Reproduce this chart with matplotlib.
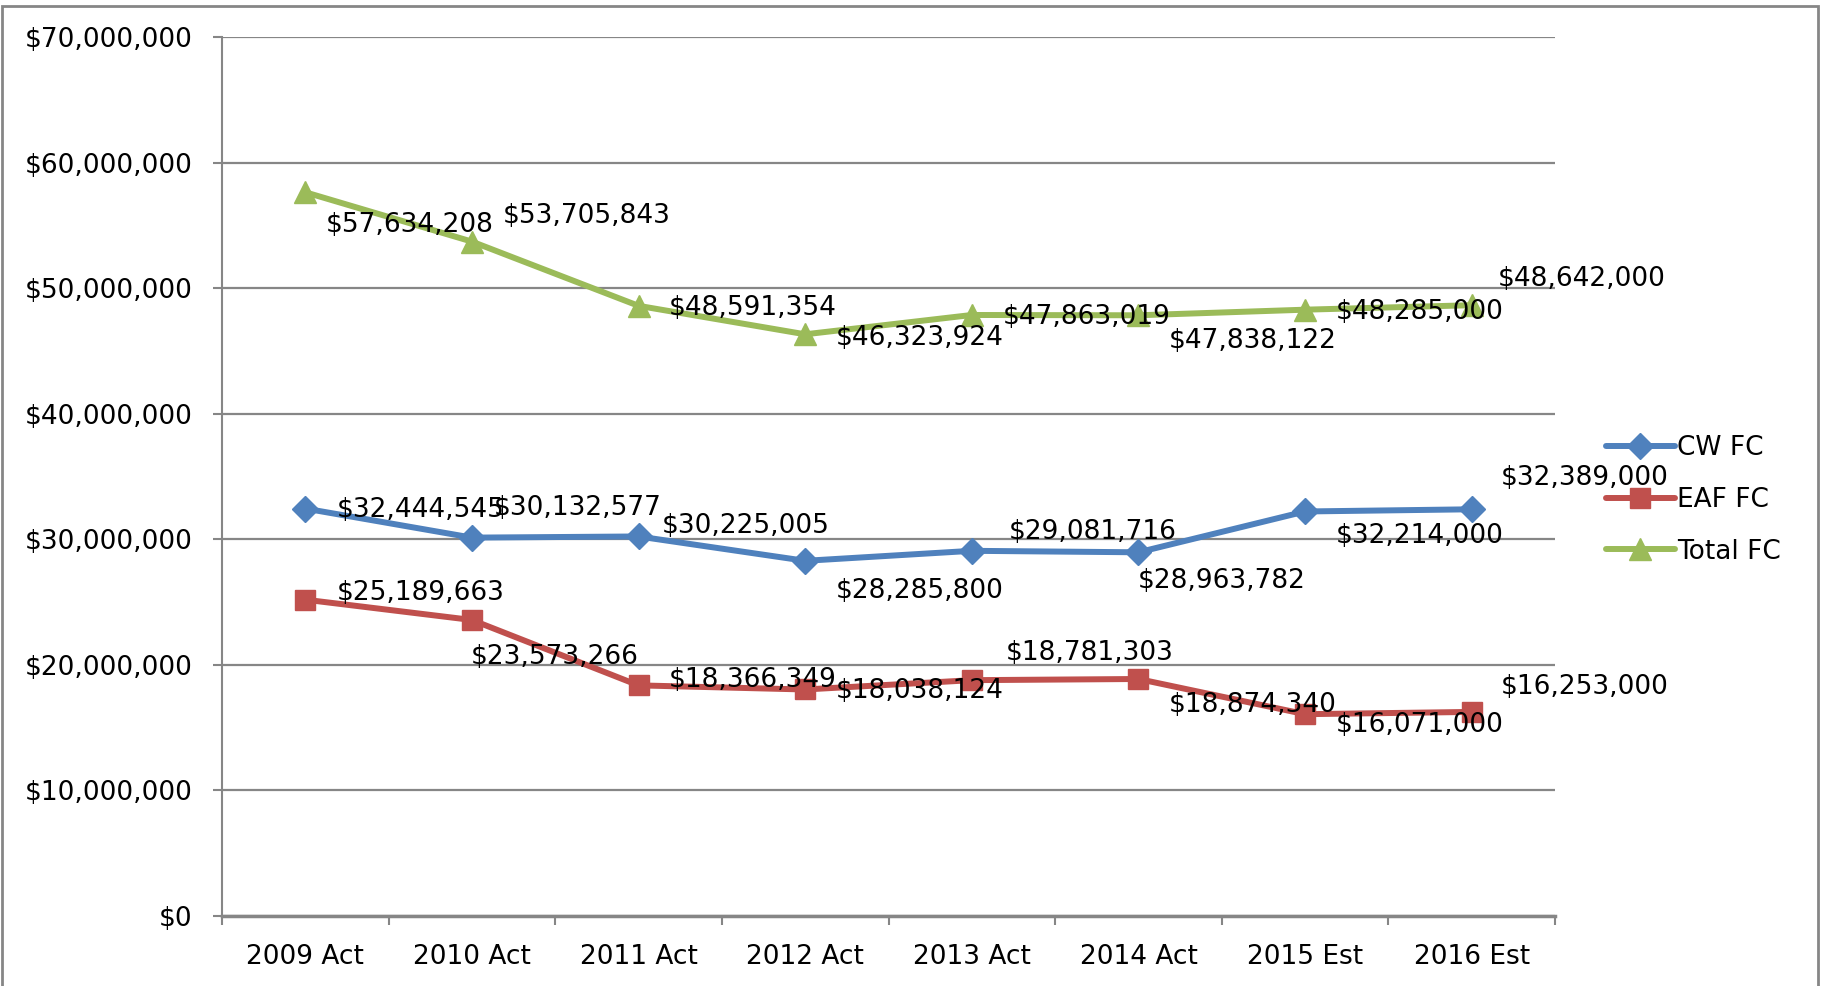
import numpy as np
import matplotlib
matplotlib.use("Agg")
import matplotlib.pyplot as plt
from matplotlib.patches import Rectangle
from matplotlib.ticker import FuncFormatter

# data
years = ["2009 Act", "2010 Act", "2011 Act", "2012 Act",
         "2013 Act", "2014 Act", "2015 Est", "2016 Est"]
cw_fc = [32444545, 30132577, 30225005, 28285800, 29081716, 28963782, 32214000, 32389000]
eaf_fc = [25189663, 23573266, 18366349, 18038124, 18781303, 18874340, 16071000, 16253000]
total_fc = [57634208, 53705843, 48591354, 46323924, 47863019, 47838122, 48285000, 48642000]

# label offsets in points (dx, dy), placed as in the original
cw_off = [(22.6, -0.8), (16, 21), (16.8, 7.5), (21.8, -21.8),
          (26.8, 13.4), (-0.8, -21), (21.8, -17.6), (21, 22.6)]
eaf_off = [(22.6, 5), (-0.8, -26.8), (21.8, 4.2), (21.8, -0.8),
           (24.3, 19.3), (21.8, -18.4), (21.8, -7.5), (21, 17.6)]
total_off = [(15, -23.5), (22, 18.4), (22, -1.7), (22, -2.5),
             (22, -1.7), (22, -18.4), (22, -1.7), (19, 19)]

blue = "#4F81BD"
red = "#C0504D"
green = "#9BBB59"
gray = "#868686"
fs = 19

plt.rcParams["font.family"] = ["DejaVu Sans"]

fig = plt.figure(figsize=(18.25, 9.86), dpi=100)
ax = fig.add_axes([222 / 1825, 70 / 986, (1555 - 222) / 1825, (916 - 37) / 986])

x = np.arange(len(years))
series = [
    ("CW FC", cw_fc, blue, "D", 13, cw_off),
    ("EAF FC", eaf_fc, red, "s", 14, eaf_off),
    ("Total FC", total_fc, green, "^", 16, total_off),
]
handles = []
for name, vals, col, mk, ms, offs in series:
    h, = ax.plot(x, vals, color=col, lw=4.3, marker=mk, markersize=ms,
                 solid_capstyle="round", label=name, zorder=3)
    handles.append(h)
    for xi, v, (dx, dy) in zip(x, vals, offs):
        ax.annotate("${:,.0f}".format(v), (xi, v), xytext=(dx, dy),
                    textcoords="offset points", ha="left", va="center",
                    fontsize=fs, color="black", zorder=5)

ax.set_xlim(-0.5, len(years) - 0.5)
ax.set_ylim(0, 70000000)
ax.set_yticks(np.arange(0, 70000001, 10000000))
ax.yaxis.set_major_formatter(FuncFormatter(lambda v, p: "${:,.0f}".format(v)))
ax.grid(axis="y", color=gray, lw=1.6)
ax.set_axisbelow(True)

ax.set_xticks(x)
ax.set_xticklabels(years)
ax.set_xticks(np.arange(-0.5, len(years)), minor=True)
ax.tick_params(axis="x", which="major", length=0, pad=20, labelsize=fs)
ax.tick_params(axis="x", which="minor", length=6.5, width=1.5, color=gray)
ax.tick_params(axis="y", length=6.5, width=1.5, color=gray, pad=15, labelsize=fs)

for s in ["top", "right"]:
    ax.spines[s].set_visible(False)
ax.spines["left"].set_color(gray)
ax.spines["left"].set_linewidth(1.5)
ax.spines["bottom"].set_color(gray)
ax.spines["bottom"].set_linewidth(2.5)

fig.legend(handles=handles, loc="center left",
           bbox_to_anchor=(1606 / 1825, 1 - 500 / 986),
           frameon=False, fontsize=fs, handlelength=2.6,
           handletextpad=0.1, labelspacing=0.97,
           borderaxespad=0, borderpad=0)

# outer frame
fig.patches.append(Rectangle((2 / 1825, -0.01), 1816 / 1825, 1 - 6 / 986 + 0.01,
                             transform=fig.transFigure, fill=False,
                             edgecolor=gray, lw=2))

fig.savefig("out.png", dpi=100)
